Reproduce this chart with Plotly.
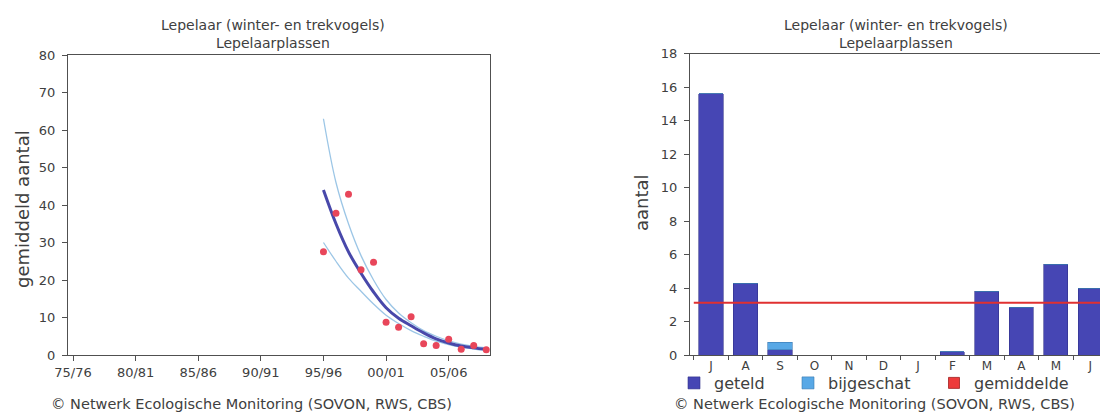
import plotly.graph_objects as go

# ---------------- data: left chart (seasonal mean, trend) ----------------
seasons = [1995, 1996, 1997, 1998, 1999, 2000, 2001, 2002, 2003, 2004, 2005, 2006, 2007, 2008]
observed = [27.5, 37.8, 42.9, 22.7, 24.7, 8.7, 7.4, 10.2, 3.0, 2.5, 4.2, 1.5, 2.5, 1.4]
trend = [44.0, 35.0, 27.5, 21.8, 16.8, 12.6, 9.8, 7.8, 5.9, 4.3, 3.2, 2.4, 1.9, 1.5]
trend_upper = [63.0, 46.0, 35.0, 26.5, 20.0, 14.8, 11.2, 8.6, 6.5, 5.0, 3.8, 2.9, 2.3, 1.9]
trend_lower = [30.0, 25.0, 20.5, 17.0, 13.6, 10.6, 8.4, 6.5, 5.0, 3.7, 2.8, 2.1, 1.6, 1.2]
season_ticks = [1975, 1980, 1985, 1990, 1995, 2000, 2005]
season_labels = ["75/76", "80/81", "85/86", "90/91", "95/96", "00/01", "05/06"]

# ---------------- data: right chart (monthly pattern) ----------------
months = ["J", "A", "S", "O", "N", "D", "J", "F", "M", "A", "M", "J"]
geteld = [15.6, 4.28, 0.3, 0, 0, 0, 0, 0.2, 3.82, 2.84, 5.43, 3.98]
bijgeschat = [0, 0, 0.45, 0, 0, 0, 0, 0, 0, 0, 0, 0]
gemiddelde = 3.12

TITLE = "Lepelaar (winter- en trekvogels)<br>Lepelaarplassen"
COPY = "\u00a9 Netwerk Ecologische Monitoring (SOVON, RWS, CBS)"
FONT = "DejaVu Sans"
TXT = "#404040"
AX = "#505050"

W, H = 1100, 413
def px(x):
    return x / W
def py(y):
    return 1 - y / H

fig = go.Figure()

# left chart
fig.add_trace(go.Scatter(x=seasons, y=trend_upper, mode="lines", line=dict(color="#9cc6e6", width=1.3, shape="spline"),
                         showlegend=False, xaxis="x", yaxis="y", hoverinfo="skip"))
fig.add_trace(go.Scatter(x=seasons, y=trend_lower, mode="lines", line=dict(color="#9cc6e6", width=1.3, shape="spline"),
                         showlegend=False, xaxis="x", yaxis="y", hoverinfo="skip"))
fig.add_trace(go.Scatter(x=seasons, y=trend, mode="lines", line=dict(color="#4848aa", width=3, shape="spline"),
                         showlegend=False, xaxis="x", yaxis="y"))
fig.add_trace(go.Scatter(x=seasons, y=observed, mode="markers", marker=dict(color="#e8465a", size=7),
                         showlegend=False, xaxis="x", yaxis="y"))

# right chart
xi = list(range(len(months)))
fig.add_trace(go.Bar(x=xi, y=geteld, name="geteld", marker=dict(color="#4646b4", line=dict(color="#30308a", width=0.6)),
                     width=0.7, xaxis="x2", yaxis="y2", legend="legend"))
fig.add_trace(go.Bar(x=xi, y=bijgeschat, name="bijgeschat", marker=dict(color="#58a8e6", line=dict(color="#3a78b0", width=0.6)),
                     width=0.7, xaxis="x2", yaxis="y2", legend="legend2"))
fig.add_trace(go.Scatter(x=[-0.5, len(months) - 0.5], y=[gemiddelde, gemiddelde], mode="lines",
                         line=dict(color="#e03030", width=2), showlegend=False, xaxis="x2", yaxis="y2"))
fig.add_trace(go.Scatter(x=[None], y=[None], mode="markers", name="gemiddelde",
                         marker=dict(symbol="square", size=11, color="#ee3a3a", line=dict(color="#a02020", width=0.8)),
                         xaxis="x2", yaxis="y2", legend="legend3"))

tickfont = dict(family=FONT, size=13, color=TXT)
common = dict(showgrid=False, zeroline=False, showline=True, linecolor=AX, linewidth=1, automargin=False,
              ticks="outside", ticklen=5, tickcolor=AX, tickfont=tickfont)

legend_common = dict(orientation="h", yanchor="middle", y=py(383), xanchor="left",
                     font=dict(family=FONT, size=16, color=TXT), bgcolor="rgba(0,0,0,0)",
                     borderwidth=0, itemwidth=30)

ann_font = dict(family=FONT, size=14, color=TXT)
fig.update_layout(
    width=W, height=H,
    margin=dict(l=0, r=0, t=0, b=0, autoexpand=False),
    paper_bgcolor="white", plot_bgcolor="white",
    barmode="stack",
    font=dict(family=FONT, color=TXT),
    xaxis=dict(domain=[px(68), px(490)], range=[1974.6, 2008.3], tickvals=season_ticks, ticktext=season_labels,
               mirror=True, anchor="y", **common),
    yaxis=dict(domain=[py(355), py(55)], range=[0, 80], dtick=10, mirror=True, anchor="x",
               ticklabelstandoff=4, **common),
    xaxis2=dict(domain=[px(690), 1.0], range=[-0.61, 11.28], tickvals=xi, ticktext=months, anchor="y2",
                mirror=True, showgrid=False, zeroline=False, showline=True, linecolor=AX, linewidth=1,
                automargin=False,
                ticks="", tickfont=dict(family=FONT, size=12, color=TXT),
                minor=dict(tick0=-0.5, dtick=1, ticks="outside", ticklen=4, tickcolor=AX, showgrid=False)),
    yaxis2=dict(domain=[py(355), py(53.5)], range=[0, 18], dtick=2, anchor="x2",
                ticklabelstandoff=4, **common),
    legend=dict(x=px(674), **legend_common),
    legend2=dict(x=px(788), **legend_common),
    legend3=dict(x=px(934), **legend_common),
    annotations=[
        dict(text=TITLE, x=px(273), y=py(34), xref="paper", yref="paper", showarrow=False,
             xanchor="center", yanchor="middle", font=ann_font),
        dict(text=TITLE, x=px(896), y=py(34), xref="paper", yref="paper", showarrow=False,
             xanchor="center", yanchor="middle", font=ann_font),
        dict(text="gemiddeld aantal", x=px(23), y=py(209), xref="paper", yref="paper", showarrow=False,
             textangle=-90, xanchor="center", yanchor="middle", font=dict(family=FONT, size=18, color=TXT)),
        dict(text="aantal", x=px(641), y=py(203), xref="paper", yref="paper", showarrow=False,
             textangle=-90, xanchor="center", yanchor="middle", font=dict(family=FONT, size=18, color=TXT)),
        dict(text=COPY, x=px(49), y=py(404), xref="paper", yref="paper", showarrow=False,
             xanchor="left", yanchor="middle", font=dict(family=FONT, size=14.5, color=TXT)),
        dict(text=COPY, x=px(672), y=py(404), xref="paper", yref="paper", showarrow=False,
             xanchor="left", yanchor="middle", font=dict(family=FONT, size=14.5, color=TXT)),
    ],
)

fig.write_html("out.html", config={"displayModeBar": False},
               post_script="document.body.style.margin='0';document.body.style.overflow='hidden';")
